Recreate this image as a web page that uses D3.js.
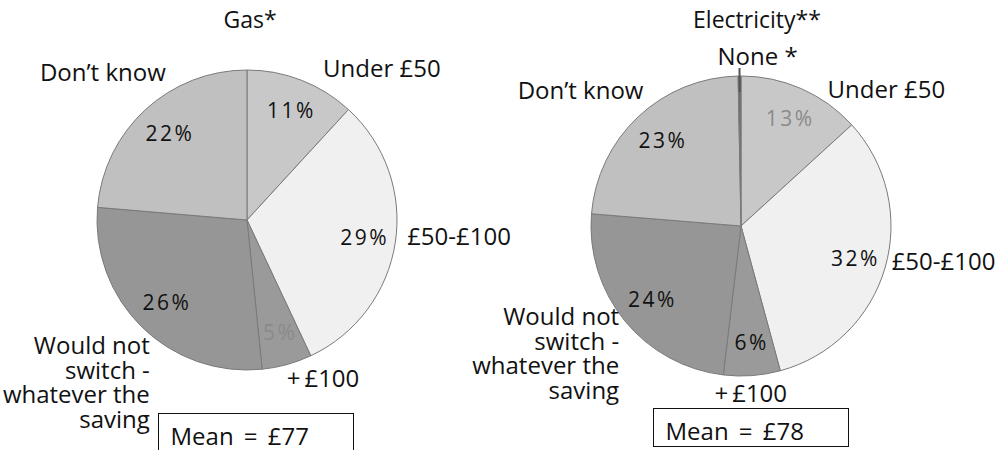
<!DOCTYPE html>
<html>
<head>
<meta charset="utf-8">
<script src="https://cdn.jsdelivr.net/npm/d3@7"></script>
<style>
  body { margin: 0; background: #fff; }
  svg text { font-family: "Open Sans", "Noto Sans", sans-serif; fill: #111; }
</style>
</head>
<body>
<div id="container"></div>
<script>
var width = 1002,
    height = 450,
    radius = 150;

// data
var categories = ['Under £50', '£50-£100', '+£100', 'Would not switch - whatever the saving', 'Don’t know'];
var gasValues = [11, 29, 5, 26, 22];
var elecCategories = categories.concat(['None *']);
var elecValues = [13, 32, 6, 24, 23, 0.3];
var gasMean = 77,
    elecMean = 78;

var colors = ['#c8c8c8', '#f0f0f0', '#9a9a9a', '#969696', '#c0c0c0', '#6e6e6e'];

// label placement: [anchor, dx, dy] nudges from the point outside the arc
var gasLabelPos = [['start', 18, 6], ['start', 2, 1], ['start', -3, 13], ['end', 15, 20], ['end', 27, -21]];
var elecLabelPos = [['start', 22, 18], ['start', -3, -1], ['middle', -2, 16], ['end', 2, -2], ['end', 12, -10], ['start', -22, -1]];
var gasGreyPct = [2],
    elecGreyPct = [0];

var svg = d3.select('#container')
    .append('svg')
    .attr('width', width)
    .attr('height', height)

var pie = d3.pie().sort(null)
var arc = d3.arc().innerRadius(0).outerRadius(radius)
var pctArc = d3.arc().innerRadius(radius * 0.78).outerRadius(radius * 0.78)
var outerArc = d3.arc().innerRadius(radius + 10).outerRadius(radius + 10)

function drawPie(cx, cy, title, titleX, cats, values, labelPos, greyPct, mean, box) {
    var g = svg.append('g')
        .attr('transform', 'translate(' + cx + ',' + cy + ')')
    var arcs = pie(values)

    g.selectAll('path.slice')
        .data(arcs)
        .enter()
        .append('path')
        .attr('class', 'slice')
        .attr('d', arc)
        .attr('fill', function (d, i) { return colors[i]; })
        .attr('stroke', '#7a7a7a')
        .attr('stroke-width', 1)

    // percentages (skip the tiny one)
    g.selectAll('text.pct')
        .data(arcs.filter(function (d) { return d.value >= 1; }))
        .enter()
        .append('text')
        .attr('class', 'pct')
        .attr('transform', function (d) {
            var c = pctArc.centroid(d);
            return 'translate(' + (c[0] + 2) + ',' + (c[1] + 7) + ')';
        })
        .attr('text-anchor', 'middle')
        .style('font-size', '21px')
        .style('letter-spacing', '2.5px')
        .style('fill', function (d) { return greyPct.indexOf(d.index) >= 0 ? '#8a8a8a' : '#111'; })
        .text(function (d) { return d.value + '%'; })

    // category labels
    arcs.forEach(function (d, i) {
        var p = outerArc.centroid(d),
            pos = labelPos[i];
        var words = cats[i] === categories[3] ? ['Would not', 'switch -', 'whatever the', 'saving'] : [cats[i].replace('+', '+\u2009')];
        var t = g.append('text')
            .attr('text-anchor', pos[0])
            .style('font-size', '24px')
        words.forEach(function (w, j) {
            t.append('tspan')
                .attr('x', p[0] + pos[1])
                .attr('y', p[1] + pos[2] + j * 24.5)
                .text(w)
        })
        if (d.value < 1) {
            // leader line for the tiny slice
            var a = (d.startAngle + d.endAngle) / 2;
            g.append('line')
                .attr('x1', Math.sin(a) * (radius + 8))
                .attr('y1', -Math.cos(a) * (radius + 8))
                .attr('x2', Math.sin(a) * (radius - 16))
                .attr('y2', -Math.cos(a) * (radius - 16))
                .attr('stroke', '#555')
                .attr('stroke-width', 2)
        }
    })

    svg.append('text')
        .attr('x', titleX)
        .attr('y', 28)
        .attr('text-anchor', 'middle')
        .style('font-size', '23px')
        .text(title)

    svg.append('rect')
        .attr('x', box[0])
        .attr('y', box[1])
        .attr('width', 195)
        .attr('height', 38)
        .attr('fill', '#fff')
        .attr('stroke', '#111')
        .attr('stroke-width', 1)
    svg.append('text')
        .attr('x', box[0] + 12)
        .attr('y', box[1] + 31)
        .style('font-size', '24px')
        .style('word-spacing', '4px')
        .text('Mean = £' + mean)
}

drawPie(247, 220, 'Gas*', 250, categories, gasValues, gasLabelPos, gasGreyPct, gasMean, [158.5, 413.5])
drawPie(741, 226, 'Electricity**', 757, elecCategories, elecValues, elecLabelPos, elecGreyPct, elecMean, [653.5, 408.5])
</script>
</body>
</html>
